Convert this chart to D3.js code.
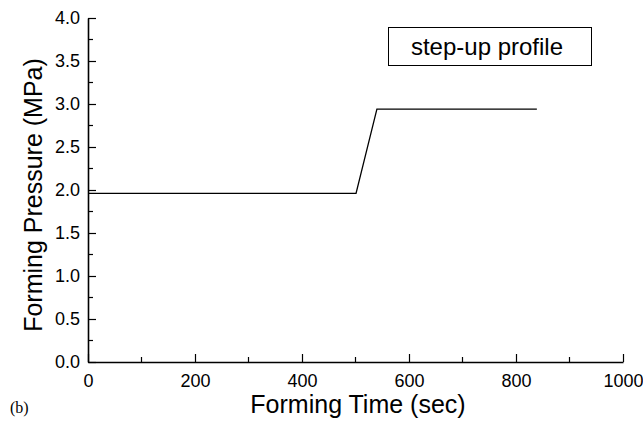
<!DOCTYPE html>
<html>
<head>
<meta charset="utf-8">
<script src="https://cdn.jsdelivr.net/npm/d3@7"></script>
<style>
  body { margin: 0; background: #fff; }
</style>
</head>
<body>
<div id="chart"></div>
<script>
// profile data (time in sec, pressure in MPa)
const timeValues = [0, 501, 540, 839];
const pressureValues = [1.96, 1.96, 2.94, 2.94];
const xTicks = [0, 200, 400, 600, 800, 1000];
const yTicks = [0.0, 0.5, 1.0, 1.5, 2.0, 2.5, 3.0, 3.5, 4.0];

const width = 643, height = 422;
const margin = { top: 18, right: 20, bottom: 60, left: 88 };
const innerWidth = 623 - margin.left;
const innerHeight = 362 - margin.top;
const sans = "'Liberation Sans', Arial, sans-serif";

const svg = d3.select("#chart").append("svg")
    .attr("width", width).attr("height", height)
    .attr("font-family", sans);
const g = svg.append("g").attr("transform", `translate(${margin.left},${margin.top})`);

const x = d3.scaleLinear().domain([0, 1000]).range([0, innerWidth]);
const y = d3.scaleLinear().domain([0, 4]).range([innerHeight, 0]);

// minor ticks (inward)
const xMinor = d3.range(100, 1000, 200);
const yMinor = d3.range(0.25, 4, 0.5);
g.selectAll(".xminor").data(xMinor).enter().append("line")
    .attr("x1", d => x(d)).attr("x2", d => x(d))
    .attr("y1", innerHeight).attr("y2", innerHeight - 5)
    .attr("stroke", "#000").attr("stroke-width", 1.2);
g.selectAll(".yminor").data(yMinor).enter().append("line")
    .attr("x1", 0).attr("x2", 5)
    .attr("y1", d => y(d)).attr("y2", d => y(d))
    .attr("stroke", "#000").attr("stroke-width", 1.2);

// axes
const xAxis = g.append("g").attr("transform", `translate(0,${innerHeight})`)
    .call(d3.axisBottom(x).tickValues(xTicks).tickSizeInner(-8).tickSizeOuter(0).tickPadding(12).tickFormat(d3.format("d")));
const yAxis = g.append("g")
    .call(d3.axisLeft(y).tickValues(yTicks).tickSizeInner(-8).tickSizeOuter(0).tickPadding(8).tickFormat(d3.format(".1f")));

[xAxis, yAxis].forEach(a => {
    a.attr("font-family", sans).attr("font-size", 18);
    a.select(".domain").attr("stroke", "#000").attr("stroke-width", 1.6);
    a.selectAll(".tick line").attr("stroke", "#000").attr("stroke-width", 1.2);
    a.selectAll(".tick text").attr("fill", "#000");
});

// line
const pts = timeValues.map((t, i) => [t, pressureValues[i]]);
g.append("path").datum(pts)
    .attr("fill", "none").attr("stroke", "#000").attr("stroke-width", 1.3)
    .attr("d", d3.line().x(d => x(d[0])).y(d => y(d[1])));

// legend box
svg.append("rect").attr("x", 388.5).attr("y", 27.5).attr("width", 203).attr("height", 38)
    .attr("fill", "#fff").attr("stroke", "#000").attr("stroke-width", 1);
svg.append("text").attr("x", 487).attr("y", 55).attr("text-anchor", "middle")
    .attr("font-size", 24).text("step-up profile");

// titles
svg.append("text").attr("x", 358).attr("y", 413).attr("text-anchor", "middle")
    .attr("font-size", 25).text("Forming Time (sec)");
svg.append("text").attr("transform", `translate(42,195) rotate(-90)`)
    .attr("text-anchor", "middle").attr("font-size", 25).text("Forming Pressure (MPa)");
svg.append("text").attr("x", 10).attr("y", 413)
    .attr("font-family", "'Liberation Serif', 'Times New Roman', serif").attr("font-size", 16).text("(b)");
</script>
</body>
</html>
